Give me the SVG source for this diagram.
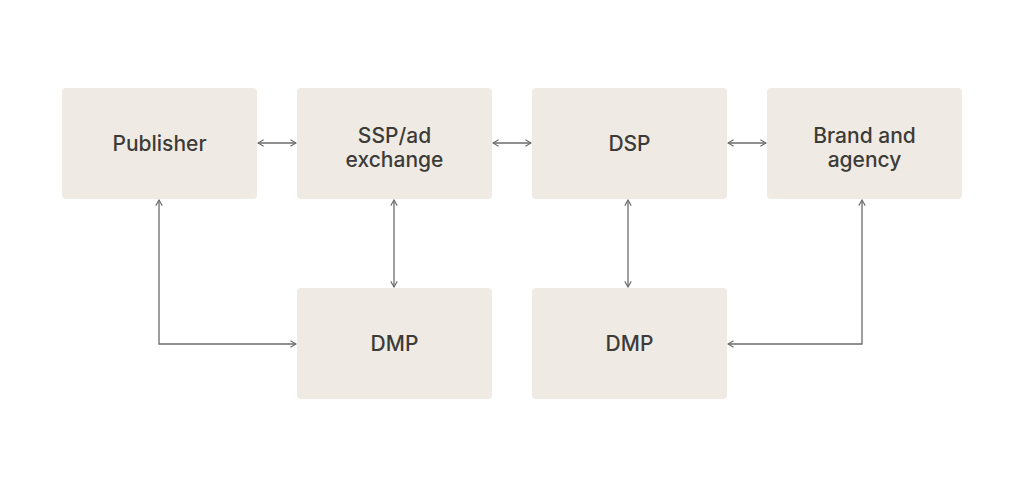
<svg xmlns="http://www.w3.org/2000/svg" width="1024" height="487" viewBox="0 0 1024 487">
<defs>
<style>
.box{fill:#efebe4;}
.lbl{font-family:Inter,"Open Sans","Liberation Sans",sans-serif;font-size:21px;font-weight:500;fill:#3d3b38;text-anchor:middle;}
.con{fill:none;stroke:#6b6b6b;stroke-width:1.3;}
</style>
<marker id="ah" viewBox="0 0 10 10" refX="9" refY="5" markerWidth="8" markerHeight="8" markerUnits="userSpaceOnUse" orient="auto-start-reverse">
<path d="M2,1 L9,5 L2,9" fill="none" stroke="#6b6b6b" stroke-width="1.4"/>
</marker>
</defs>
<rect width="1024" height="487" fill="#ffffff"/>
<g id="publisher"><rect class="box" x="62" y="88" width="195" height="111" rx="4"/><text class="lbl" x="159.5" y="151">Publisher</text></g>
<g id="ssp"><rect class="box" x="297" y="88" width="195" height="111" rx="4"/><text class="lbl" x="394.5" y="143">SSP/ad</text><text class="lbl" x="394.5" y="167">exchange</text></g>
<g id="dsp"><rect class="box" x="532" y="88" width="195" height="111" rx="4"/><text class="lbl" x="629.5" y="151">DSP</text></g>
<g id="brand"><rect class="box" x="767" y="88" width="195" height="111" rx="4"/><text class="lbl" x="864.5" y="143">Brand and</text><text class="lbl" x="864.5" y="167">agency</text></g>
<g id="dmp1"><rect class="box" x="297" y="288" width="195" height="111" rx="4"/><text class="lbl" x="394.5" y="351">DMP</text></g>
<g id="dmp2"><rect class="box" x="532" y="288" width="195" height="111" rx="4"/><text class="lbl" x="629.5" y="351">DMP</text></g>
<g id="connectors">
<path class="con" d="M258,143 H296" marker-start="url(#ah)" marker-end="url(#ah)"/>
<path class="con" d="M493,143 H531" marker-start="url(#ah)" marker-end="url(#ah)"/>
<path class="con" d="M728,143 H766" marker-start="url(#ah)" marker-end="url(#ah)"/>
<path class="con" d="M394,200 V287" marker-start="url(#ah)" marker-end="url(#ah)"/>
<path class="con" d="M628,200 V287" marker-start="url(#ah)" marker-end="url(#ah)"/>
<path class="con" d="M159,200 V344 H296" marker-start="url(#ah)" marker-end="url(#ah)"/>
<path class="con" d="M862,200 V344 H728" marker-start="url(#ah)" marker-end="url(#ah)"/>
</g>
</svg>
